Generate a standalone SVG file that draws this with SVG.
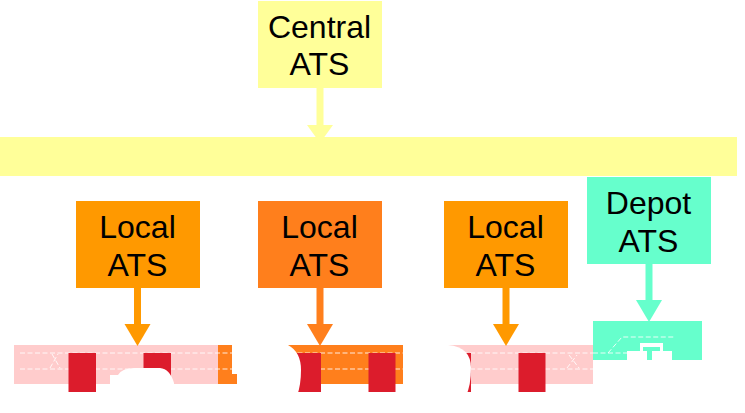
<svg xmlns="http://www.w3.org/2000/svg" width="745" height="413" viewBox="0 0 745 413">
<style>
text{font-family:"Liberation Sans",Arial,sans-serif;font-size:32px;fill:#000;text-anchor:middle}
.y{fill:#ffff99}.o{fill:#ff9900}.d{fill:#ff7f1c}.t{fill:#66ffcc}.p{fill:#ffcccc}.r{fill:#dc1c2c}.w{fill:#fff}
.da{fill:none;stroke:#fff;stroke-width:1;stroke-dasharray:5 2.500;opacity:.85}
.ly{stroke:#ffff99;stroke-width:7;fill:none}.lo{stroke:#ff9900;stroke-width:7;fill:none}.ld{stroke:#ff7f1c;stroke-width:7;fill:none}.lt{stroke:#66ffcc;stroke-width:7;fill:none}
</style>
<g id="track">
<rect class="p" x="14" y="345" width="204" height="39"/>
<rect class="p" x="403" y="345" width="190" height="39"/>
<rect class="d" x="218" y="345" width="185" height="39"/>
<path class="da" d="M20 353H593M20 369H593"/>
<path class="da" d="M50 368L58 354M52 354L60 368M567 368L577 355M569 355L579 368"/>
<rect class="r" x="68.500" y="353" width="27.500" height="39"/>
<rect class="r" x="143.500" y="353" width="27.500" height="39"/>
<rect class="r" x="294" y="353" width="27" height="39"/>
<rect class="r" x="368.500" y="353" width="27" height="39"/>
<rect class="r" x="444" y="353" width="27" height="39"/>
<rect class="r" x="518.500" y="353" width="27" height="39"/>
<path class="w" d="M110 396V375H118Q122 368 135 368H160Q170 369 174 383V396Z"/>
<path class="w" d="M237 396V374H232V345H288Q301 352 301 370Q301 385 297 396Z"/>
<path class="w" d="M403 396V345H448Q471 347 471 368Q471 385 466 396Z"/>
</g>
<g id="depot-track">
<path class="t" d="M593 321H702V360H672V351H663V343H640V351H627V360H593Z"/>
<path class="w" d="M627 351H647V360H627ZM652 351H672V360H652Z"/>
<path class="t" d="M643 347H660V351H652V360H647V351H643Z"/>
<path class="da" d="M593 353H627M608 353L622 337H675"/>
</g>
<g id="bus"><rect class="y" x="0" y="137" width="737" height="39"/></g>
<g id="connectors">
<path class="ly" d="M320 87V125"/><path class="y" d="M307 125H333L320 143Z"/>
<path class="lo" d="M137.500 288V325"/><path class="o" d="M124.500 324H150.500L137.500 346Z"/>
<path class="ld" d="M320 288V325"/><path class="d" d="M307 324H333L320 346Z"/>
<path class="lo" d="M506 288V325"/><path class="o" d="M493 324H519L506 346Z"/>
<path class="lt" d="M649 264V301"/><path class="t" d="M636 300H662L649 322Z"/>
</g>
<g id="central"><rect class="y" x="258" y="1" width="124" height="87"/><text x="319.500" y="38">Central</text><text x="319.500" y="75">ATS</text></g>
<g id="local1"><rect class="o" x="76" y="201" width="124" height="87"/><text x="137.500" y="238">Local</text><text x="137.500" y="276">ATS</text></g>
<g id="local2"><rect class="d" x="258" y="201" width="124" height="87"/><text x="319.500" y="238">Local</text><text x="319.500" y="276">ATS</text></g>
<g id="local3"><rect class="o" x="444" y="201" width="124" height="87"/><text x="505.500" y="238">Local</text><text x="505.500" y="276">ATS</text></g>
<g id="depot"><rect class="t" x="587" y="177" width="124" height="87"/><text x="648.500" y="214">Depot</text><text x="648.500" y="252">ATS</text></g>
</svg>
